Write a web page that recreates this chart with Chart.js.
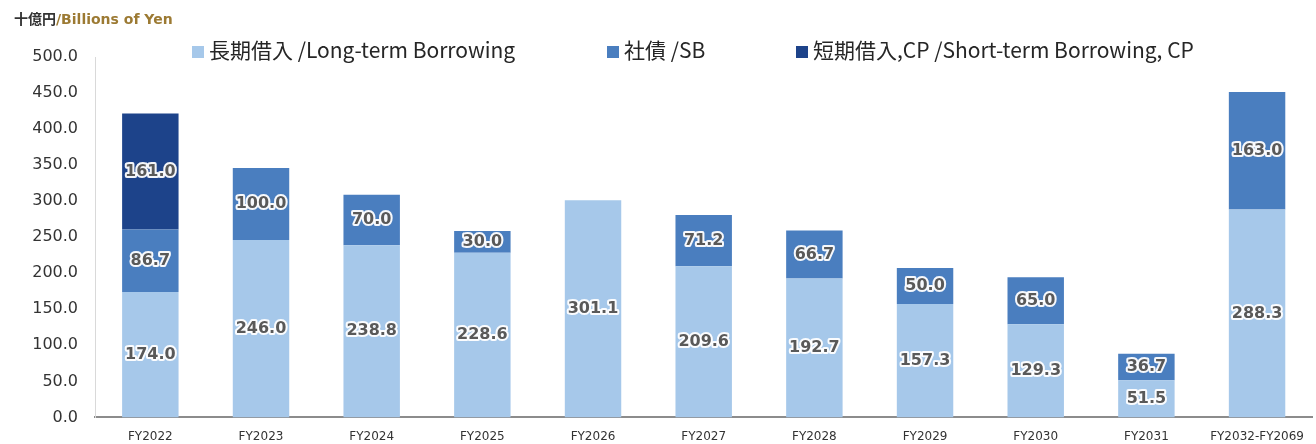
<!DOCTYPE html>
<html>
<head>
<meta charset="utf-8">
<script src="https://cdn.jsdelivr.net/npm/chart.js@4"></script>
<style>
  html, body { margin: 0; padding: 0; background: #fff; }
  #wrap { position: relative; width: 1316px; height: 444px; }
  #c { display: block; }
  #unit { position: absolute; left: 14px; top: 8px; font: bold 14px "DejaVu Sans", sans-serif; white-space: nowrap; }
  #unit .jp { font-family: "Noto Sans CJK JP", sans-serif; color: #333; }
  #unit .en { color: #9c7a33; }
  .leg { position: absolute; top: 34px; font: 21px "Noto Sans CJK JP", sans-serif; color: #262626; white-space: nowrap; line-height: 30px; }
  .leg i { display: inline-block; width: 12px; height: 12px; margin-right: 5px; vertical-align: 0px; }
</style>
</head>
<body>
<div id="wrap">
  <canvas id="c" width="1316" height="444"></canvas>
  <div id="unit"><span class="jp">十億円</span><span class="en">/Billions of Yen</span></div>
  <div class="leg" style="left:192px"><i style="background:#a6c8ea"></i>長期借入 /Long-term Borrowing</div>
  <div class="leg" style="left:607px"><i style="background:#4a7ebf"></i>社債 /SB</div>
  <div class="leg" style="left:796px"><i style="background:#1d438a"></i>短期借入,CP /Short-term Borrowing, CP</div>
</div>
<script>
// 年度
const categories = ['FY2022', 'FY2023', 'FY2024', 'FY2025', 'FY2026', 'FY2027', 'FY2028', 'FY2029', 'FY2030', 'FY2031', 'FY2032-FY2069'];
// 長期借入
const longTerm = [174.0, 246.0, 238.8, 228.6, 301.1, 209.6, 192.7, 157.3, 129.3, 51.5, 288.3];
// 社債
const bonds = [86.7, 100.0, 70.0, 30.0, null, 71.2, 66.7, 50.0, 65.0, 36.7, 163.0];
// 短期借入,CP
const shortTerm = [161.0, null, null, null, null, null, null, null, null, null, null];
const yTicks = [0, 50, 100, 150, 200, 250, 300, 350, 400, 450, 500];

// 数据标签（白色描边）
const valueLabels = {
  id: 'valueLabels',
  afterDatasetsDraw(chart) {
    const ctx = chart.ctx;
    ctx.save();
    ctx.font = 'bold 16px "DejaVu Sans", sans-serif';
    ctx.textAlign = 'center';
    ctx.textBaseline = 'middle';
    ctx.lineJoin = 'round';
    chart.data.datasets.forEach((ds, i) => {
      const meta = chart.getDatasetMeta(i);
      meta.data.forEach((bar, j) => {
        const v = ds.data[j];
        if (v == null || v === 0) return;
        const y = (bar.y + bar.base) / 2;
        const txt = v.toFixed(1);
        ctx.strokeStyle = 'rgba(255,255,255,0.95)';
        ctx.lineWidth = 4;
        ctx.strokeText(txt, bar.x, y);
        ctx.fillStyle = '#595959';
        ctx.fillText(txt, bar.x, y);
      });
    });
    ctx.restore();
  }
};

const ctx = document.getElementById('c').getContext('2d');
new Chart(ctx, {
  type: 'bar',
  data: {
    labels: categories,
    datasets: [
      { label: '長期借入 /Long-term Borrowing', data: longTerm, backgroundColor: '#a6c8ea' },
      { label: '社債 /SB', data: bonds, backgroundColor: '#4a7ebf' },
      { label: '短期借入,CP /Short-term Borrowing, CP', data: shortTerm, backgroundColor: '#1d438a' }
    ]
  },
  options: {
    responsive: false,
    animation: false,
    layout: { padding: { top: 57, right: 0, left: 0, bottom: 0 } },
    datasets: { bar: { categoryPercentage: 1, barPercentage: 0.51 } },
    plugins: { legend: { display: false }, tooltip: { enabled: false } },
    scales: {
      x: {
        stacked: true,
        grid: { display: false, drawTicks: false },
        border: { display: true, color: '#8c8c8c', width: 2 },
        ticks: { font: { family: 'DejaVu Sans', size: 12 }, color: '#333', padding: 12, maxRotation: 0, autoSkip: false },
        afterFit(scale) { scale.height = 26; }
      },
      y: {
        stacked: true,
        min: 0,
        max: 500,
        grid: { display: false, drawTicks: false },
        border: { display: true, color: '#d9d9d9', width: 1 },
        afterBuildTicks(scale) { scale.ticks = yTicks.map(v => ({ value: v })); },
        ticks: {
          font: { family: 'DejaVu Sans', size: 16 },
          color: '#333',
          padding: 17,
          callback: v => v.toFixed(1)
        },
        afterFit(scale) { scale.width = 95; }
      }
    }
  },
  plugins: [valueLabels]
});
</script>
</body>
</html>
